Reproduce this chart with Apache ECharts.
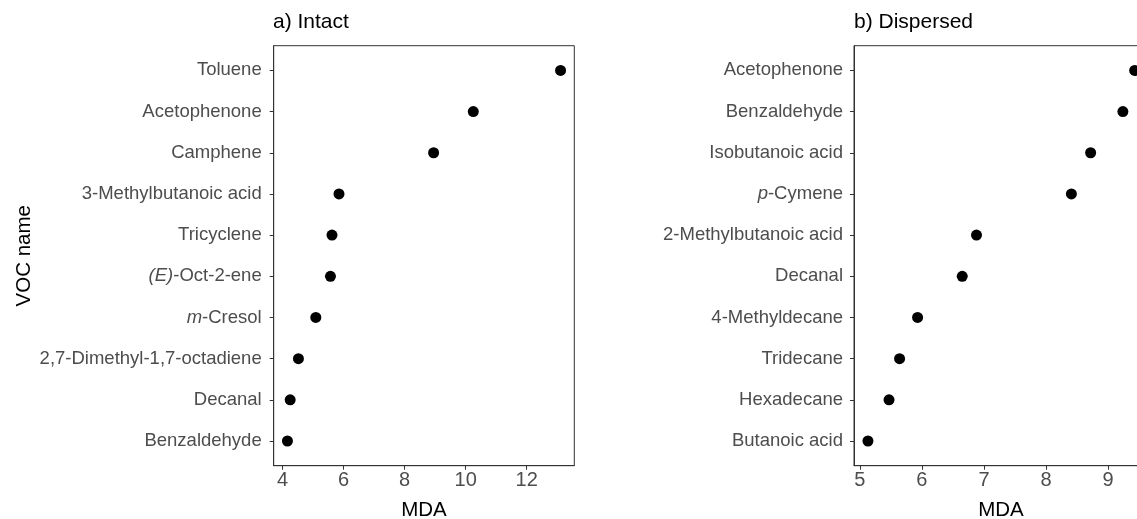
<!DOCTYPE html>
<html>
<head>
<meta charset="utf-8">
<script src="https://cdn.jsdelivr.net/npm/echarts@6/dist/echarts.min.js"></script>
<style>html,body{margin:0;padding:0;background:#fff}#c{width:1137px;height:519px}</style>
</head>
<body>
<div id="c"></div>
<script>
// Panel a) Intact — listed bottom to top
const intactNames = ["Benzaldehyde", "Decanal", "2,7-Dimethyl-1,7-octadiene", "m-Cresol", "(E)-Oct-2-ene", "Tricyclene", "3-Methylbutanoic acid", "Camphene", "Acetophenone", "Toluene"];
const intactMDA = [4.16, 4.25, 4.52, 5.09, 5.57, 5.62, 5.85, 8.95, 10.25, 13.11];
const intactTicks = [4, 6, 8, 10, 12];

// Panel b) Dispersed — listed bottom to top
const dispersedNames = ["Butanoic acid", "Hexadecane", "Tridecane", "4-Methyldecane", "Decanal", "2-Methylbutanoic acid", "p-Cymene", "Isobutanoic acid", "Benzaldehyde", "Acetophenone"];
const dispersedMDA = [5.13, 5.47, 5.64, 5.93, 6.65, 6.88, 8.41, 8.72, 9.24, 9.43];
const dispersedTicks = [5, 6, 7, 8, 9];

const FONT = "Liberation Sans";
const LABEL_COLOR = "#4d4d4d";
const AXIS_COLOR = "#333333";
const LABEL_SIZE = 18.5;
const TICK_SIZE = 20;
const TITLE_SIZE = 20.5;

function fmtName(names) {
  return function (v) {
    const name = names[Math.round(v) - 1];
    if (name === undefined) return "";
    const m = name.match(/^(\(E\)|m|p)(-.*)$/);
    if (m) return "{i|" + m[1] + "}{n|" + m[2] + "}";
    return "{n|" + name + "}";
  };
}
const rich = {
  n: { fontFamily: FONT, fontSize: LABEL_SIZE, color: LABEL_COLOR },
  i: { fontFamily: FONT, fontSize: LABEL_SIZE, color: LABEL_COLOR, fontStyle: "italic" }
};
function idx(arr) { return arr.map((_, i) => i + 1); }

function xAxisFor(gridIndex, min, max, ticks) {
  return {
    type: "value", gridIndex, min, max,
    name: "MDA", nameLocation: "middle", nameGap: 34,
    nameTextStyle: { fontFamily: FONT, fontSize: TITLE_SIZE, color: "#000" },
    axisLine: { show: true, onZero: false, lineStyle: { color: AXIS_COLOR, width: 1 } },
    axisTick: { show: true, length: 4, customValues: ticks, lineStyle: { color: AXIS_COLOR } },
    axisLabel: { customValues: ticks, margin: 5, fontFamily: FONT, fontSize: TICK_SIZE, color: LABEL_COLOR },
    splitLine: { show: false }
  };
}
function yAxisFor(gridIndex, names, withName, margin) {
  const ax = {
    type: "value", gridIndex, min: 0.4, max: names.length + 0.6,
    axisLine: { show: true, onZero: false, lineStyle: { color: AXIS_COLOR, width: 1 } },
    axisTick: { show: true, length: 4, customValues: idx(names), lineStyle: { color: AXIS_COLOR } },
    axisLabel: { customValues: idx(names), margin, formatter: fmtName(names), rich },
    splitLine: { show: false }
  };
  if (withName) {
    Object.assign(ax, {
      name: "VOC name", nameLocation: "middle", nameGap: 239, nameRotate: 90,
      nameTextStyle: { fontFamily: FONT, fontSize: TITLE_SIZE, color: "#000" }
    });
  }
  return ax;
}
function pts(vals) { return vals.map((v, i) => [v, i + 1]); }

const chart = echarts.init(document.getElementById("c"), null, { renderer: "canvas" });
chart.setOption({
  animation: false,
  backgroundColor: "#fff",
  title: [
    { text: "a) Intact", left: 268, top: 7, textStyle: { fontFamily: FONT, fontSize: 21, fontWeight: "normal", color: "#000" } },
    { text: "b) Dispersed", left: 849, top: 7, textStyle: { fontFamily: FONT, fontSize: 21, fontWeight: "normal", color: "#000" } }
  ],
  grid: [
    { left: 273.7, top: 45.7, width: 300.6, height: 420, outerBoundsMode: "none", containLabel: false, show: true, borderColor: AXIS_COLOR, borderWidth: 1, backgroundColor: "#fff" },
    { left: 854, top: 45.7, width: 294, height: 420, outerBoundsMode: "none", containLabel: false, show: true, borderColor: AXIS_COLOR, borderWidth: 1, backgroundColor: "#fff" }
  ],
  xAxis: [
    xAxisFor(0, 3.71, 13.56, intactTicks),
    xAxisFor(1, 4.905, 9.645, dispersedTicks)
  ],
  yAxis: [
    yAxisFor(0, intactNames, true, 12),
    yAxisFor(1, dispersedNames, false, 11)
  ],
  series: [
    { type: "scatter", xAxisIndex: 0, yAxisIndex: 0, data: pts(intactMDA), symbolSize: 11, itemStyle: { color: "#000", opacity: 1 } },
    { type: "scatter", xAxisIndex: 1, yAxisIndex: 1, data: pts(dispersedMDA), symbolSize: 11, itemStyle: { color: "#000", opacity: 1 } }
  ]
});
</script>
</body>
</html>
